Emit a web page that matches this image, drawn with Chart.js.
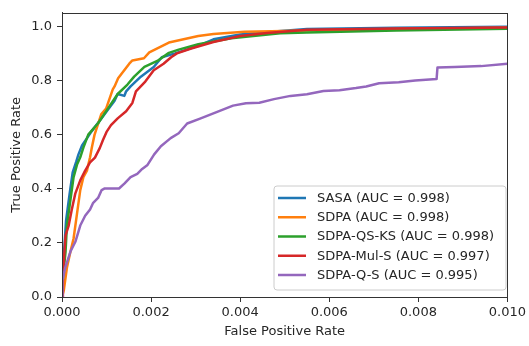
<!DOCTYPE html>
<html>
<head>
<meta charset="utf-8">
<script src="https://cdn.jsdelivr.net/npm/chart.js@4/dist/chart.umd.min.js"></script>
<style>
  html, body { margin: 0; padding: 0; background: #fff; }
  #wrap { width: 529px; height: 346px; }
</style>
</head>
<body>
<div id="wrap"><canvas id="c" width="529" height="346"></canvas></div>
<script>
// ---- data ----
const seriesNames = ["SASA", "SDPA", "SDPA-QS-KS", "SDPA-Mul-S", "SDPA-Q-S"];
const aucValues = ["0.998", "0.998", "0.998", "0.997", "0.995"];
const seriesColors = ["#1f77b4", "#ff7f0e", "#2ca02c", "#d62728", "#9467bd"];

const xTickValues = [0, 0.002, 0.004, 0.006, 0.008, 0.010];
const yTickValues = [0, 0.2, 0.4, 0.6, 0.8, 1.0];

const sasaFpr = [0, 0.00001, 0.00004, 0.00009, 0.00017, 0.00024, 0.00032, 0.00037, 0.00045, 0.00066, 0.00088, 0.00118, 0.00125, 0.0014, 0.00144, 0.00154, 0.00177, 0.00206, 0.00224, 0.00254, 0.00306, 0.0034, 0.004, 0.0047, 0.0055, 0.0075, 0.01];
const sasaTpr = [0, 0.06, 0.15, 0.28, 0.38, 0.46, 0.5, 0.527, 0.56, 0.611, 0.659, 0.725, 0.75, 0.743, 0.76, 0.778, 0.814, 0.85, 0.886, 0.9, 0.928, 0.952, 0.97, 0.98, 0.99, 0.995, 0.998];

const sdpaFpr = [0, 0.00004, 0.00011, 0.00019, 0.00026, 0.00033, 0.00041, 0.00048, 0.00056, 0.00063, 0.00067, 0.00073, 0.00088, 0.00099, 0.00114, 0.00118, 0.00126, 0.00151, 0.00158, 0.00184, 0.00196, 0.0024, 0.00306, 0.0034, 0.0041, 0.0047, 0.0055, 0.0075, 0.01];
const sdpaTpr = [0, 0.024, 0.108, 0.168, 0.216, 0.3, 0.395, 0.443, 0.467, 0.516, 0.552, 0.599, 0.675, 0.696, 0.767, 0.778, 0.808, 0.862, 0.874, 0.882, 0.904, 0.94, 0.964, 0.972, 0.98, 0.982, 0.985, 0.99, 0.995];

const qsksFpr = [0, 0.00001, 0.00005, 0.00008, 0.00011, 0.00019, 0.00026, 0.00034, 0.00041, 0.00048, 0.00059, 0.00081, 0.00103, 0.00125, 0.00147, 0.00162, 0.00185, 0.00214, 0.0024, 0.00262, 0.00306, 0.0038, 0.0049, 0.0055, 0.0075, 0.01];
const qsksTpr = [0, 0.05, 0.12, 0.168, 0.264, 0.36, 0.443, 0.491, 0.516, 0.552, 0.6, 0.642, 0.696, 0.75, 0.785, 0.814, 0.85, 0.872, 0.902, 0.914, 0.934, 0.956, 0.974, 0.977, 0.985, 0.991];

const mulFpr = [0, 0.00002, 0.00008, 0.00015, 0.00022, 0.0003, 0.00041, 0.00052, 0.00063, 0.00074, 0.00085, 0.00092, 0.001, 0.0011, 0.00125, 0.00144, 0.00158, 0.00166, 0.00187, 0.00206, 0.00228, 0.00245, 0.00258, 0.0029, 0.0034, 0.004, 0.0046, 0.0055, 0.0075, 0.01];
const mulTpr = [0, 0.08, 0.228, 0.264, 0.323, 0.383, 0.431, 0.467, 0.497, 0.515, 0.551, 0.58, 0.61, 0.635, 0.66, 0.686, 0.717, 0.76, 0.796, 0.838, 0.862, 0.886, 0.9, 0.918, 0.942, 0.964, 0.975, 0.987, 0.992, 0.996];

const qsFpr = [0, 0.00001, 0.00007, 0.00019, 0.0003, 0.00041, 0.00052, 0.00063, 0.0007, 0.00081, 0.00089, 0.00096, 0.00128, 0.0014, 0.00154, 0.00169, 0.0018, 0.00192, 0.00207, 0.00222, 0.00244, 0.00262, 0.00281, 0.0031, 0.00347, 0.00384, 0.00413, 0.00443, 0.00476, 0.00513, 0.0055, 0.00587, 0.00623, 0.0066, 0.00683, 0.00712, 0.00756, 0.00793, 0.00841, 0.00843, 0.00882, 0.00941, 0.01];
const qsTpr = [0, 0.06, 0.108, 0.168, 0.204, 0.264, 0.3, 0.323, 0.348, 0.366, 0.395, 0.401, 0.401, 0.419, 0.443, 0.455, 0.473, 0.488, 0.527, 0.557, 0.587, 0.605, 0.641, 0.659, 0.683, 0.707, 0.716, 0.718, 0.731, 0.743, 0.749, 0.761, 0.764, 0.772, 0.778, 0.79, 0.793, 0.8, 0.805, 0.848, 0.85, 0.853, 0.862];

const allFpr = [sasaFpr, sdpaFpr, qsksFpr, mulFpr, qsFpr];
const allTpr = [sasaTpr, sdpaTpr, qsksTpr, mulTpr, qsTpr];

// ---- build chart ----
const FONT = "'DejaVu Sans', sans-serif";
const TXT = '#262626';

const datasets = seriesNames.map((name, i) => ({
  label: name + ' (AUC = ' + aucValues[i] + ')',
  data: allFpr[i].map((x, k) => ({ x: x, y: allTpr[i][k] })),
  borderColor: seriesColors[i],
  backgroundColor: seriesColors[i],
  borderWidth: 2.5,
  pointRadius: 0,
  tension: 0,
  fill: false,
  order: seriesNames.length - i
}));

const framePlugin = {
  id: 'frameAndLegend',
  afterDraw(chart) {
    const ctx = chart.ctx;
    const a = chart.chartArea;
    ctx.save();
    // spines
    ctx.strokeStyle = '#333';
    ctx.lineWidth = 1;
    ctx.strokeRect(Math.round(a.left) + 0.5, Math.round(a.top) + 0.5,
                   Math.round(a.right - a.left), Math.round(a.bottom - a.top));
    // legend box
    const bx = 274, by = 186, bw = 232, bh = 104, r = 3;
    ctx.beginPath();
    ctx.moveTo(bx + r, by);
    ctx.lineTo(bx + bw - r, by);
    ctx.arcTo(bx + bw, by, bx + bw, by + r, r);
    ctx.lineTo(bx + bw, by + bh - r);
    ctx.arcTo(bx + bw, by + bh, bx + bw - r, by + bh, r);
    ctx.lineTo(bx + r, by + bh);
    ctx.arcTo(bx, by + bh, bx, by + bh - r, r);
    ctx.lineTo(bx, by + r);
    ctx.arcTo(bx, by, bx + r, by, r);
    ctx.closePath();
    ctx.fillStyle = 'rgba(255,255,255,0.8)';
    ctx.fill();
    ctx.strokeStyle = '#cccccc';
    ctx.lineWidth = 1;
    ctx.stroke();
    // legend entries
    ctx.font = '13px ' + FONT;
    ctx.textBaseline = 'middle';
    ctx.textAlign = 'left';
    chart.data.datasets.forEach((ds, i) => {
      const y = 198 + i * 19.25;
      ctx.strokeStyle = ds.borderColor;
      ctx.lineWidth = 2.5;
      ctx.beginPath();
      ctx.moveTo(278, y);
      ctx.lineTo(306, y);
      ctx.stroke();
      ctx.fillStyle = TXT;
      ctx.fillText(ds.label, 317, y + 0.5);
    });
    ctx.restore();
  }
};

new Chart(document.getElementById('c'), {
  type: 'line',
  data: { datasets: datasets },
  options: {
    responsive: false,
    devicePixelRatio: 1,
    animation: false,
    layout: { padding: { top: 4, right: 16, left: 0, bottom: 0 } },
    plugins: { legend: { display: false }, tooltip: { enabled: false } },
    elements: { line: { borderJoinStyle: 'round', borderCapStyle: 'butt' } },
    scales: {
      x: {
        type: 'linear',
        min: 0,
        max: 0.01,
        afterBuildTicks(scale) { scale.ticks = xTickValues.map(v => ({ value: v })); },
        afterFit(scale) { scale.height = 49; },
        ticks: {
          callback: v => Number(v).toFixed(3),
          font: { family: FONT, size: 13 },
          color: TXT,
          padding: 3,
          maxRotation: 0
        },
        grid: { drawOnChartArea: false, drawTicks: true, tickLength: 5, color: '#333', tickWidth: 1 },
        border: { display: true, color: '#333', width: 1 },
        title: {
          display: true,
          text: 'False Positive Rate',
          font: { family: FONT, size: 13 },
          color: TXT,
          padding: { top: 0, bottom: 7 }
        }
      },
      y: {
        type: 'linear',
        min: 0,
        max: 1.05,
        afterBuildTicks(scale) { scale.ticks = yTickValues.map(v => ({ value: v })); },
        afterFit(scale) { scale.width = 62; },
        ticks: {
          callback: v => Number(v).toFixed(1),
          font: { family: FONT, size: 13 },
          color: TXT,
          padding: 5
        },
        grid: { drawOnChartArea: false, drawTicks: true, tickLength: 5, color: '#333', tickWidth: 1 },
        border: { display: true, color: '#333', width: 1 },
        title: {
          display: true,
          text: 'True Positive Rate',
          font: { family: FONT, size: 13 },
          color: TXT,
          padding: { top: 9, bottom: 0 }
        }
      }
    }
  },
  plugins: [framePlugin]
});
</script>
</body>
</html>
